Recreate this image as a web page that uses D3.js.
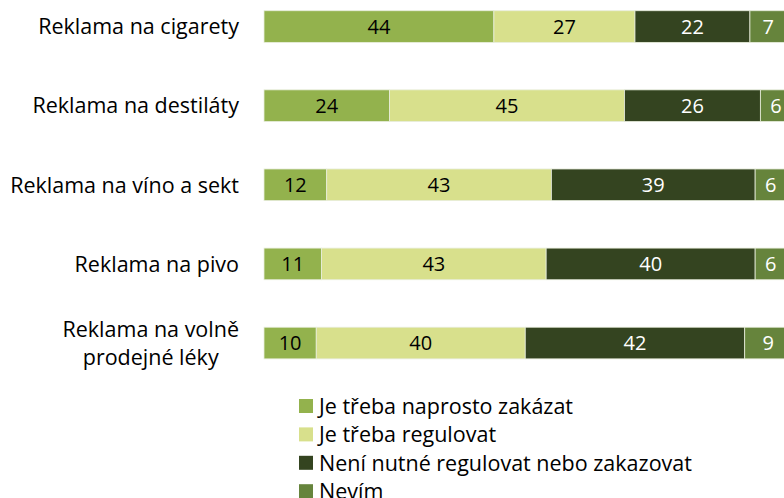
<!DOCTYPE html>
<html>
<head>
<meta charset="utf-8">
<script src="https://cdn.jsdelivr.net/npm/d3@7"></script>
<style>
  html, body { margin: 0; padding: 0; background: #fff; }
  svg { display: block; font-family: "Open Sans", "Noto Sans", sans-serif; }
</style>
</head>
<body>
<svg id="chart" width="784" height="498"></svg>
<script>
// Categories (each label may span several lines)
const categories = [
  ["Reklama na cigarety"],
  ["Reklama na destiláty"],
  ["Reklama na víno a sekt"],
  ["Reklama na pivo"],
  ["Reklama na volně", "prodejné léky"]
];
const seriesNames = [
  "Je třeba naprosto zakázat",
  "Je třeba regulovat",
  "Není nutné regulovat nebo zakazovat",
  "Nevím"
];
const zakazat   = [44, 24, 12, 11, 10];
const regulovat = [27, 45, 43, 43, 40];
const nenutne   = [22, 26, 39, 40, 42];
const nevim     = [7, 6, 6, 6, 9];
const seriesValues = [zakazat, regulovat, nenutne, nevim];
const colors = ["#93b24d", "#d8e08c", "#344420", "#66843c"];
const textColors = ["#000", "#000", "#fff", "#fff"];

const svg = d3.select("#chart");

const x = d3.scaleLinear().domain([0, 100]).range([264, 786.5]);
const y = d3.scaleBand()
  .domain(d3.range(categories.length))
  .range([-13, 382.6])
  .paddingInner(0.6)
  .paddingOuter(0.3);

// Build stacked rows
const rows = categories.map((c, i) => {
  const r = { idx: i };
  seriesNames.forEach((s, k) => { r[k] = seriesValues[k][i]; });
  return r;
});
const stack = d3.stack().keys(d3.range(seriesNames.length))(rows);

const layers = svg.append("g").selectAll("g")
  .data(stack)
  .join("g");

layers.selectAll("rect")
  .data((d, k) => d.map(p => ({ p, k })))
  .join("rect")
  .attr("x", d => x(d.p[0]))
  .attr("y", d => y(d.p.data.idx))
  .attr("width", d => x(d.p[1]) - x(d.p[0]))
  .attr("height", y.bandwidth())
  .attr("fill", d => colors[d.k])
  .attr("stroke", "#e8eddc")
  .attr("stroke-width", 0.8);

layers.selectAll("text")
  .data((d, k) => d.map(p => ({ p, k })))
  .join("text")
  .attr("x", d => (x(d.p[0]) + x(d.p[1])) / 2)
  .attr("y", d => y(d.p.data.idx) + y.bandwidth() / 2)
  .attr("dy", "0.36em")
  .attr("text-anchor", "middle")
  .attr("font-size", 20)
  .attr("fill", d => textColors[d.k])
  .text(d => d.p[1] - d.p[0]);

// Category labels: block right-aligned at the bars, lines centered within it
const labelG = svg.append("g");
categories.forEach((lines, i) => {
  const cy = y(i) + y.bandwidth() / 2;
  const lh = 28;
  const t = labelG.append("text")
    .attr("font-size", 21.5)
    .attr("fill", "#000");
  lines.forEach((ln, j) => {
    t.append("tspan")
      .attr("y", cy + (j - (lines.length - 1) / 2) * lh)
      .attr("dy", "0.36em")
      .text(ln);
  });
  const tspans = t.selectAll("tspan").nodes();
  const ws = tspans.map(n => n.getComputedTextLength());
  const maxW = d3.max(ws);
  tspans.forEach((n, j) => {
    d3.select(n).attr("x", 239 - maxW + (maxW - ws[j]) / 2);
  });
});

// Legend
const legend = svg.append("g");
seriesNames.forEach((name, k) => {
  const top = 399 + k * 28.4;
  legend.append("rect")
    .attr("x", 299).attr("y", top)
    .attr("width", 14).attr("height", 14)
    .attr("fill", colors[k]);
  legend.append("text")
    .attr("x", 319).attr("y", top + 7)
    .attr("dy", "0.36em")
    .attr("font-size", 21.5)
    .attr("fill", "#000")
    .text(name);
});
</script>
</body>
</html>
